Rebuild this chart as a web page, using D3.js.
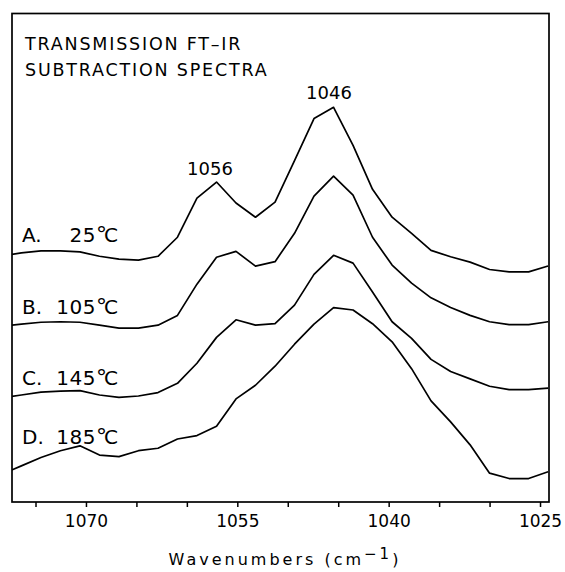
<!DOCTYPE html>
<html>
<head>
<meta charset="utf-8">
<script src="https://cdn.jsdelivr.net/npm/d3@7"></script>
<style>
  html, body { margin: 0; padding: 0; background: #fff; }
  svg { display: block; }
  text { font-family: "DejaVu Sans", sans-serif; fill: #000; }
</style>
</head>
<body>
<div id="chart"></div>
<script>
// ---- data ----
const wavenumbers = [1078.33, 1076.40, 1074.46, 1072.53, 1070.60, 1068.66, 1066.73, 1064.80,
  1062.86, 1060.93, 1059.00, 1057.06, 1055.13, 1053.20, 1051.26, 1049.33, 1047.40, 1045.46,
  1043.53, 1041.60, 1039.66, 1037.73, 1035.80, 1033.86, 1031.93, 1030.00, 1028.06, 1026.13, 1024.20];

// stacked subtraction spectra, arbitrary absorbance units (0-100 full frame)
const spectrumA = [50.4, 51.0, 51.4, 51.4, 51.2, 50.3, 49.7, 49.5, 50.3, 54.2, 62.2, 65.5, 61.2, 58.3,
  61.4, 69.9, 78.5, 80.8, 73.0, 64.0, 58.3, 55.0, 51.5, 50.2, 49.1, 47.6, 47.1, 47.1, 48.3];
const spectrumB = [36.0, 36.4, 36.8, 36.9, 36.8, 36.2, 35.6, 35.6, 36.2, 38.2, 44.6, 50.1, 51.3, 48.3,
  49.2, 55.0, 62.6, 66.7, 62.8, 54.2, 48.5, 44.8, 41.8, 39.8, 38.2, 36.9, 36.3, 36.3, 36.9];
const spectrumC = [21.3, 21.9, 22.5, 22.7, 22.8, 21.9, 21.4, 21.7, 22.4, 24.3, 28.4, 33.7, 37.3, 36.2,
  36.5, 40.3, 46.6, 50.5, 48.9, 43.0, 36.9, 33.5, 29.2, 26.7, 25.2, 23.7, 23.0, 23.0, 23.3];
const spectrumD = [5.7, 7.4, 9.1, 10.5, 11.5, 9.6, 9.3, 10.5, 11.0, 12.9, 13.6, 15.5, 21.1, 23.9,
  27.8, 32.3, 36.4, 39.8, 39.3, 36.5, 32.8, 27.3, 20.7, 16.4, 11.7, 5.9, 4.8, 4.8, 6.2];

const seriesLetters = ["A.", "B.", "C.", "D."];
const seriesTemps = ["25", "105", "145", "185"];
const tickValues = [1075, 1070, 1065, 1060, 1055, 1050, 1045, 1040, 1035, 1030, 1025];
const labeledTicks = [1070, 1055, 1040, 1025];
const peakLabels = ["1056", "1046"];
const titleLines = ["TRANSMISSION FT\u2013IR", "SUBTRACTION SPECTRA"];

// ---- layout ----
const W = 565, H = 572;
const mLeft = 12, mRight = 549, mTop = 13.5, mBottom = 502;

const svg = d3.select("#chart").append("svg").attr("width", W).attr("height", H);

const x = d3.scaleLinear().domain([1077.33, 1024.11]).range([mLeft, mRight]);
const y = d3.scaleLinear().domain([0, 100]).range([mBottom, mTop]);

svg.append("clipPath").attr("id", "clip")
  .append("rect").attr("x", mLeft).attr("y", mTop).attr("width", mRight - mLeft).attr("height", mBottom - mTop);

const line = d3.line().x(d => x(d[0])).y(d => y(d[1]));
const allSpectra = [spectrumA, spectrumB, spectrumC, spectrumD];

svg.append("g").attr("clip-path", "url(#clip)")
  .selectAll("path").data(allSpectra).join("path")
  .attr("d", s => line(wavenumbers.map((w, i) => [w, s[i]])))
  .attr("fill", "none").attr("stroke", "#000").attr("stroke-width", 1.7)
  .attr("stroke-linejoin", "round");

// frame
svg.append("rect").attr("x", mLeft).attr("y", mTop).attr("width", mRight - mLeft).attr("height", mBottom - mTop)
  .attr("fill", "none").attr("stroke", "#000").attr("stroke-width", 1.7);

// x axis
const axis = d3.axisBottom(x).tickValues(tickValues).tickSize(5).tickSizeOuter(0)
  .tickFormat(d => labeledTicks.includes(d) ? String(d) : "");
const gAx = svg.append("g").attr("transform", `translate(0,${mBottom})`).call(axis);
gAx.select(".domain").remove();
gAx.selectAll(".tick line").attr("stroke", "#000").attr("stroke-width", 1.5);
gAx.selectAll(".tick text").attr("y", 25).attr("dy", 0)
  .style("font-family", '"DejaVu Sans", sans-serif').style("font-size", "17px").attr("fill", "#000");

// axis title
const xt = svg.append("text").attr("x", 285).attr("y", 565).attr("text-anchor", "middle")
  .style("font-size", "16px").style("letter-spacing", "3px");
xt.append("tspan").text("Wavenumbers (cm");
xt.append("tspan").attr("dy", -6).style("font-size", "15px").text("\u22121");
xt.append("tspan").attr("dy", 6).text(")");

// title block
svg.selectAll("text.title").data(titleLines).join("text").attr("class", "title")
  .attr("x", 25).attr("y", (d, i) => 50 + i * 26)
  .style("font-size", "17.5px").style("letter-spacing", "1.8px").text(d => d);

// peak labels
const peakPos = [[210, 175], [329, 99]];
svg.selectAll("text.peak").data(peakLabels).join("text").attr("class", "peak")
  .attr("x", (d, i) => peakPos[i][0]).attr("y", (d, i) => peakPos[i][1])
  .attr("text-anchor", "middle").style("font-size", "18px").text(d => d);

// series labels: letter, then "temp °C" as one text
const labelY = [242, 313.5, 385, 443.5];
seriesLetters.forEach((l, i) => {
  svg.append("text").attr("x", 22).attr("y", labelY[i]).style("font-size", "20px").text(l);
  const t = svg.append("text").attr("x", 95).attr("y", labelY[i]).attr("text-anchor", "end")
    .style("font-size", "20px");
  t.append("tspan").style("letter-spacing", "0.5px").text(seriesTemps[i]);
  t.append("tspan").style("font-size", "22px").style("letter-spacing", "-3px").text("\u00B0");
  t.append("tspan").text("C");
  t.attr("x", 118);
});
</script>
</body>
</html>
